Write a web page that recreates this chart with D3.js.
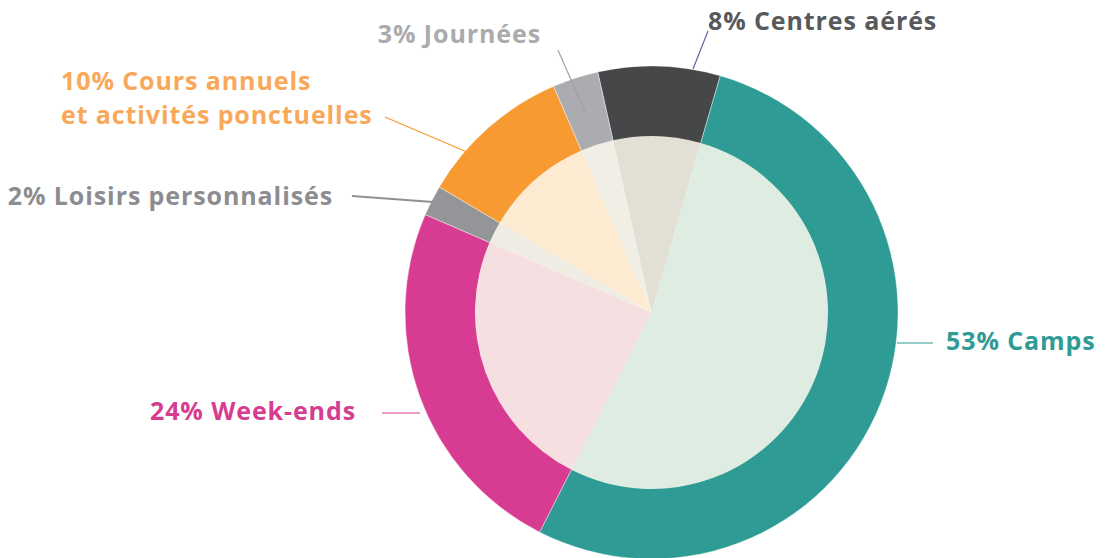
<!DOCTYPE html>
<html>
<head>
<meta charset="utf-8">
<script src="https://cdn.jsdelivr.net/npm/d3@7"></script>
<style>
  html, body { margin: 0; padding: 0; background: #fff; }
  svg { display: block; }
</style>
</head>
<body>
<div id="chart"></div>
<script>
// chart data
const categories = ["Centres aérés", "Camps", "Week-ends", "Loisirs personnalisés", "Cours annuels et activités ponctuelles", "Journées"];
const values = [8, 53, 24, 2, 10, 3];
const outerColors = ["#464749", "#2e9b94", "#d83c92", "#939598", "#f79a32", "#abacb0"];
const innerColors = ["#e2e0d5", "#dfece1", "#f6dfe0", "#efede3", "#fcebd0", "#f1efe5"];
const labelColors = ["#58595b", "#2e9b94", "#d63d90", "#8c8d90", "#f9a85a", "#aaabae"];
const lineColors = ["#6a5fa8", "#2e9b94", "#d63d90", "#8e9094", "#f79a32", "#a0a1a4"];

const width = 1110, height = 558;
const cx = 651.5, cy = 312.5;
const outerR = 246.5, innerR = 176.5;

// label placement (x, y of text, anchor, line from -> to)
const labelLayout = [
  { x: 708, y: 30, anchor: "start", line: [[708, 31], [693, 69]] },
  { x: 946, y: 350, anchor: "start", line: [[897, 343], [933, 343]] },
  { x: 356, y: 420, anchor: "end", line: [[382, 413], [420, 413]] },
  { x: 333, y: 205, anchor: "end", line: [[352, 196], [433, 202]] },
  { x: 61, y: 90, anchor: "start", lines: 2, line: [[385, 117], [467, 152]] },
  { x: 541, y: 43, anchor: "end", line: [[558, 50], [585, 112]] }
];

const data = categories.map((c, i) => ({ name: c, value: values[i], i: i }));

const svg = d3.select("#chart").append("svg")
    .attr("width", width)
    .attr("height", height);

const pie = d3.pie()
    .value(d => d.value)
    .sort(null)
    .startAngle(-12.6 * Math.PI / 180)
    .endAngle(2 * Math.PI - 12.6 * Math.PI / 180);

const arcs = pie(data);

const g = svg.append("g").attr("transform", "translate(" + cx + "," + cy + ")");

const outerArc = d3.arc().innerRadius(innerR - 1).outerRadius(outerR);
const innerArc = d3.arc().innerRadius(0).outerRadius(innerR);

g.selectAll("path.outer")
    .data(arcs)
    .join("path")
    .attr("class", "outer")
    .attr("d", outerArc)
    .attr("fill", d => outerColors[d.data.i])
    .attr("stroke", "#fff")
    .attr("stroke-width", 0.4);

g.selectAll("path.inner")
    .data(arcs)
    .join("path")
    .attr("class", "inner")
    .attr("d", innerArc)
    .attr("fill", d => innerColors[d.data.i]);

// leader lines
svg.selectAll("line.leader")
    .data(data)
    .join("line")
    .attr("class", "leader")
    .attr("x1", d => labelLayout[d.i].line[0][0])
    .attr("y1", d => labelLayout[d.i].line[0][1])
    .attr("x2", d => labelLayout[d.i].line[1][0])
    .attr("y2", d => labelLayout[d.i].line[1][1])
    .attr("stroke", d => lineColors[d.i])
    .attr("stroke-width", d => d.i == 3 ? 2 : 1.2);

// labels
const labels = svg.selectAll("text.lbl")
    .data(data)
    .join("text")
    .attr("class", "lbl")
    .attr("x", d => labelLayout[d.i].x)
    .attr("y", d => labelLayout[d.i].y)
    .attr("text-anchor", d => labelLayout[d.i].anchor)
    .attr("fill", d => labelColors[d.i])
    .style("font-family", "'Open Sans', 'Noto Sans', sans-serif")
    .style("font-weight", 700)
    .style("font-size", "25px")
    .style("letter-spacing", "0.9px");

labels.each(function(d) {
    const t = d3.select(this);
    if (labelLayout[d.i].lines == 2) {
        t.append("tspan").attr("x", labelLayout[d.i].x).text(d.value + "% Cours annuels");
        t.append("tspan").attr("x", labelLayout[d.i].x).attr("dy", 34).text("et activités ponctuelles");
    } else {
        t.text(d.value + "% " + d.name);
    }
});
</script>
</body>
</html>
